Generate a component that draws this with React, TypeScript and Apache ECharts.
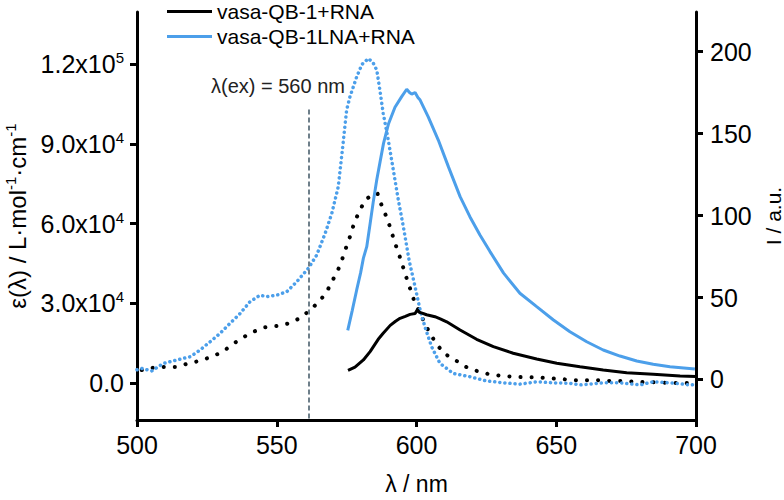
import React, { useEffect, useRef } from "react";
import * as echarts from "echarts";

const FONT = "'Liberation Sans', Arial, Helvetica, sans-serif";

// Absorbance (left axis, ε in L·mol-1·cm-1)
const absRNA: [number, number][] = [
  [501.7, 4900], [506.4, 5900], [510, 6100], [514.2, 6100], [518.4, 7400], [522.5, 8400],
  [526.7, 9900], [530.7, 11800], [534.2, 14600], [538, 17200], [541.6, 19300], [545.8, 21000],
  [550.2, 21500], [554.4, 22500], [558.6, 24600], [561.9, 27500], [565.1, 30600], [567.9, 34400],
  [569.9, 38500], [572, 42800], [573.5, 46900], [575, 51600], [576.5, 56000], [577.7, 60300],
  [579.5, 64500], [581.6, 68900], [584, 70800], [586, 71500], [587.5, 67000], [589.3, 62400],
  [590.8, 58000], [592, 53600], [593.5, 49200], [594.9, 44700], [596.2, 40300], [597.7, 35600],
  [599.1, 31200], [601, 27000], [602.7, 23100], [604.8, 18700], [607.2, 14700], [609.8, 11200],
  [613.8, 8700], [617.7, 6100], [621.5, 4600], [625.7, 3400], [629.9, 2800], [634.6, 2400],
  [638.8, 2200], [643, 2200], [647.2, 1800], [652, 1500], [656.1, 1100], [660.3, 1100],
  [664.5, 1100], [669, 800], [673.4, 800], [678.2, 500], [682.4, 300], [686.5, 300],
  [690.7, 0], [694.9, 100], [698.5, -100], [700, -100],
];

const absLNA: [number, number][] = [
  [500, 5000], [501.7, 5500], [505.3, 4600], [509.4, 7400], [514.2, 8700], [519, 9900],
  [522.5, 12400], [526.1, 15500], [529.7, 18700], [533.3, 22500], [536.9, 26200], [540.4, 30600],
  [544, 33100], [546.4, 32500], [550, 33100], [553.6, 34400], [557.1, 38100], [561.3, 43200],
  [564.3, 48200], [567.3, 56300], [569.7, 63900], [572, 73900], [573.5, 88000], [575, 102800],
  [576.2, 107800], [578.6, 115300], [580.5, 120000], [582.8, 122200], [584.5, 120500],
  [585.8, 117800], [586.9, 110300], [588.1, 101500], [589.9, 91500], [591.7, 80200],
  [593.5, 68900], [595.3, 58800], [597.4, 46000], [599.5, 36200], [601.3, 27500], [603, 21200],
  [605.4, 13700], [608.4, 7400], [613.2, 3600], [619.1, 2400], [625.1, 800], [631.1, 100],
  [637, -400], [643, 500], [649, 100], [654.9, -100], [658.5, -700], [666.8, 100],
  [672.8, 100], [680, -700], [684.7, 500], [690.7, 100], [697.9, -700], [700, -500],
];

// Emission (right axis, I in a.u.)
const emRNA: [number, number][] = [
  [575.5, 5.5], [578, 7.5], [581, 11.9], [583.4, 17], [586.3, 24.5], [588, 28], [590.6, 33],
  [592.5, 35.5], [594.1, 37.3], [596, 38.5], [597.7, 39.7], [599.5, 40.2], [600.3, 42.5],
  [601, 41], [602, 40.5], [603.6, 39.5], [606.6, 38.3], [608.5, 37], [610.8, 35.2],
  [615.6, 30.2], [621.5, 24.5], [627.5, 20], [634.6, 16], [643, 12.5], [650.2, 9.9],
  [658.5, 7.8], [666.8, 5.8], [675.2, 4.1], [684.7, 3.2], [694.3, 2.1], [700, 1.8],
];

const emLNA: [number, number][] = [
  [575.4, 30], [577, 42], [578.6, 54.6], [580, 65], [581, 74], [582.2, 81], [583.4, 95],
  [584.5, 108], [585.8, 122], [587, 133], [588.2, 144], [590, 156], [592.3, 166],
  [594.7, 172.5], [596.5, 177], [597.5, 175], [598.3, 174], [599.5, 175], [600.5, 172],
  [601.3, 170.4], [604.2, 160.2], [607.8, 146], [611.4, 129.8], [615.6, 111.5], [619.1, 99.3],
  [622.7, 88.1], [626.3, 78], [631.1, 65], [637, 52.6], [643, 44.4], [649, 36.3],
  [654.9, 29.1], [660.9, 23], [666.8, 18], [672.8, 14.3], [678.8, 11.3], [684.7, 9.3],
  [690.7, 7.8], [699.6, 6.4],
];

const leftTickValues = [0, 30000, 60000, 90000, 120000];
const leftTickMantissa = ["0.0", "3.0x10", "6.0x10", "9.0x10", "1.2x10"];
const leftTickExponent = ["", "4", "4", "4", "5"];
const rightTickValues = [0, 50, 100, 150, 200];

const seriesNames = ["vasa-QB-1+RNA", "vasa-QB-1LNA+RNA"];
const excitationWavelength = 561.5;
const excitationLabel = "λ(ex) = 560 nm";

export default function App() {
  const ref = useRef<HTMLDivElement>(null);
  useEffect(() => {
    if (!ref.current) return;
    const chart = echarts.init(ref.current, undefined, { renderer: "svg" });
    const black = "#000000";
    const blue = "#4c9fea";
    const axisCommon = {
      axisLine: { show: true, onZero: false, lineStyle: { color: "#000", width: 3 } },
      axisTick: { show: true, length: 7, inside: false, lineStyle: { color: "#000", width: 3 } },
      splitLine: { show: false },
    };
    chart.setOption({
      animation: false,
      backgroundColor: "#fff",
      textStyle: { fontFamily: FONT },
      grid: {
        left: 137,
        right: 88,
        top: 12,
        bottom: 80,
        containLabel: false,
        outerBoundsMode: "none",
      },
      legend: {
        data: seriesNames,
        orient: "vertical",
        left: 162,
        top: -4,
        itemWidth: 45,
        itemHeight: 3,
        itemGap: 4,
        icon: "rect",
        textStyle: { fontSize: 21, color: "#000", fontFamily: FONT, lineHeight: 21 },
        selectedMode: false,
      },
      xAxis: {
        type: "value",
        min: 500,
        max: 700,
        interval: 50,
        ...axisCommon,
        axisLabel: { fontSize: 25, margin: 12, color: "#000", fontFamily: FONT },
        name: "λ / nm",
        nameLocation: "middle",
        nameGap: 52,
        nameTextStyle: { fontSize: 23, color: "#000", fontFamily: FONT },
      },
      yAxis: [
        {
          type: "value",
          position: "left",
          min: -13900,
          max: 139700,
          ...axisCommon,
          axisTick: { ...axisCommon.axisTick, customValues: leftTickValues },
          axisLabel: {
            customValues: leftTickValues,
            margin: 13,
            color: "#000",
            formatter: (v: number) => {
              let idx = 0;
              leftTickValues.forEach((t, i) => {
                if (Math.abs(t - v) < Math.abs(leftTickValues[idx] - v)) idx = i;
              });
              const m = leftTickMantissa[idx];
              const e = leftTickExponent[idx];
              return e ? `{m|${m}}{e|${e}}` : `{m|${m}}`;
            },
            rich: {
              m: { fontSize: 25, lineHeight: 28, color: "#000", fontFamily: FONT },
              e: { fontSize: 15, lineHeight: 15, verticalAlign: "top", color: "#000", fontFamily: FONT },
            },
          },
          name: "{n|ε(λ) / L·mol}{s|-1}{n|·cm}{s|-1}",
          nameLocation: "middle",
          nameRotate: 90,
          nameGap: 106,
          nameTextStyle: {
            rich: {
              n: { fontSize: 24, lineHeight: 28, color: "#000", fontFamily: FONT },
              s: { fontSize: 15, lineHeight: 15, verticalAlign: "top", color: "#000", fontFamily: FONT },
            },
          },
        },
        {
          type: "value",
          position: "right",
          min: -24.7,
          max: 224.1,
          ...axisCommon,
          axisTick: { ...axisCommon.axisTick, customValues: rightTickValues },
          axisLabel: { customValues: rightTickValues, fontSize: 25, margin: 14, color: "#000", fontFamily: FONT },
          name: "I / a.u.",
          nameLocation: "middle",
          nameRotate: 90,
          nameGap: 60,
          nameTextStyle: { fontSize: 21, color: "#000", fontFamily: FONT },
        },
      ],
      series: [
        {
          name: "abs vasa-QB-1+RNA",
          type: "line",
          yAxisIndex: 0,
          data: absRNA,
          symbol: "none",
          color: black,
          lineStyle: { color: black, width: 4, type: [0.1, 11], cap: "round" },
          markLine: {
            silent: true,
            symbol: ["none", "none"],
            label: { show: false },
            lineStyle: { type: [5, 3], color: "#6e7f8a", width: 2 },
            data: [[{ coord: [excitationWavelength, 103000] }, { coord: [excitationWavelength, -13900] }]],
          },
        },
        {
          name: "abs vasa-QB-1LNA+RNA",
          type: "line",
          yAxisIndex: 0,
          data: absLNA,
          symbol: "none",
          color: blue,
          lineStyle: { color: blue, width: 3.5, type: [0.1, 5], cap: "round" },
        },
        {
          name: seriesNames[0],
          type: "line",
          yAxisIndex: 1,
          data: emRNA,
          symbol: "none",
          color: black,
          itemStyle: { color: black },
          lineStyle: { color: black, width: 3 },
        },
        {
          name: seriesNames[1],
          type: "line",
          yAxisIndex: 1,
          data: emLNA,
          symbol: "none",
          color: blue,
          itemStyle: { color: blue },
          lineStyle: { color: blue, width: 3 },
        },
      ],
      graphic: [
        {
          type: "text",
          left: 211,
          top: 76,
          style: { text: excitationLabel, fontSize: 20, fill: "#222", fontFamily: FONT },
        },
      ],
    });
    return () => chart.dispose();
  }, []);
  return (
    <div
      ref={ref}
      style={{ position: "fixed", left: 0, top: 0, width: 784, height: 500, background: "#fff" }}
    />
  );
}
